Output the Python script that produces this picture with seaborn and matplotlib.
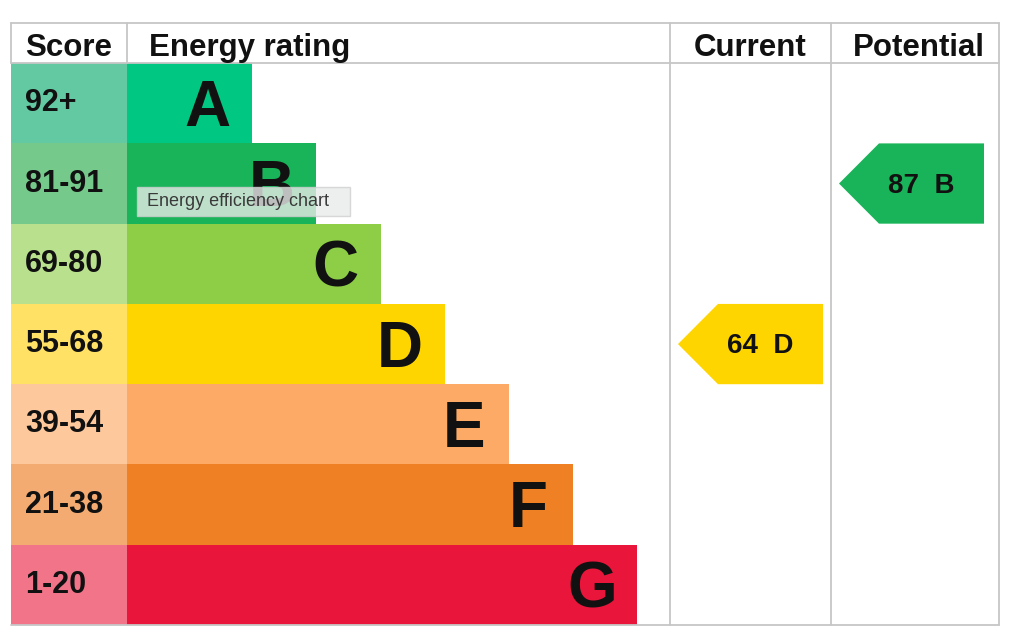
import matplotlib.pyplot as plt
import seaborn as sns
from matplotlib.patches import Polygon, Rectangle

# EPC bands, best to worst
bands = ['A', 'B', 'C', 'D', 'E', 'F', 'G']
score_ranges = ['92+', '81-91', '69-80', '55-68', '39-54', '21-38', '1-20']
band_floor = [92, 81, 69, 55, 39, 21, 1]
bar_colors = ['#00c781', '#19b459', '#8dce46', '#ffd500', '#fcaa65', '#ef8023', '#e9153b']
score_colors = ['#62c9a2', '#74c98b', '#b9e08c', '#ffe166', '#fdc89c', '#f4ab72', '#f27489']

current_score = 64
potential_score = 87

headers = ['Score', 'Energy rating', 'Current', 'Potential']
tooltip = 'Energy efficiency chart'

# layout (x in pixels relative to start of the rating bars)
SCORE_W = 116
BASE, STEP = 61, 64.2
CUR_L, CUR_R = 543, 704
POT_L, POT_R = 704, 872
LINE = '#c6c6c6'


def band_of(score):
    for i, floor in enumerate(band_floor):
        if score >= floor:
            return i
    return len(bands) - 1


sns.set_theme(style='white')
plt.rcParams['font.family'] = ['Liberation Sans', 'DejaVu Sans']

fig = plt.figure(figsize=(10.24, 6.43), dpi=100)
ax = fig.add_axes([11 / 1024, 18 / 643, 988 / 1024, 602 / 643])

bar_len = [BASE + STEP * (i + 1) for i in range(len(bands))]
sns.barplot(x=bar_len, y=bands, hue=bands, palette=bar_colors, orient='h',
            width=1.0, saturation=1, linewidth=0, legend=False, ax=ax)
ax.barh(range(len(bands)), SCORE_W, left=-SCORE_W, height=1.0,
        color=score_colors, linewidth=0)

for i, (band, rng) in enumerate(zip(bands, score_ranges)):
    ax.text(-SCORE_W + 14, i, rng, ha='left', va='center', fontsize=22,
            fontweight='bold', color='#111111')
    ax.text(bar_len[i] - 45, i + 0.07, band, ha='center', va='center',
            fontsize=46, fontweight='bold', color='#111111')

# current / potential arrows
for score, left in [(current_score, CUR_L), (potential_score, POT_L)]:
    row = band_of(score)
    tip = left + 8
    pts = [(tip, row), (tip + 40, row - 0.5), (left + 153, row - 0.5),
           (left + 153, row + 0.5), (tip + 40, row + 0.5)]
    ax.add_patch(Polygon(pts, closed=True, facecolor=bar_colors[row], linewidth=0))
    ax.text(tip + 82, row + 0.03, f'{score}  {bands[row]}', ha='center', va='center',
            fontsize=20, fontweight='bold', color='#111111')

# header
hy = -0.69
ax.text(-SCORE_W + 14, hy, headers[0], ha='left', va='center', fontsize=22.5, fontweight='bold', color='#111111')
ax.text(22, hy, headers[1], ha='left', va='center', fontsize=22.5, fontweight='bold', color='#111111')
ax.text((CUR_L + CUR_R) / 2, hy, headers[2], ha='center', va='center', fontsize=22.5, fontweight='bold', color='#111111')
ax.text((POT_L + POT_R) / 2 + 4, hy, headers[3], ha='center', va='center', fontsize=22.5, fontweight='bold', color='#111111')

# table lines
lw = 1.3
ax.plot([-SCORE_W, POT_R], [-1.0, -1.0], color=LINE, lw=lw, clip_on=False)
ax.plot([-SCORE_W, POT_R], [-0.5, -0.5], color=LINE, lw=lw, clip_on=False)
ax.plot([-SCORE_W, POT_R], [6.5, 6.5], color=LINE, lw=lw, clip_on=False)
ax.plot([-SCORE_W, -SCORE_W], [-1.0, -0.5], color=LINE, lw=lw, clip_on=False)
ax.plot([0, 0], [-1.0, -0.5], color=LINE, lw=lw, clip_on=False)
for x in [CUR_L, POT_L, POT_R]:
    ax.plot([x, x], [-1.0, 6.5], color=LINE, lw=lw, clip_on=False)

ax.set_xlim(-SCORE_W, POT_R)
ax.set_ylim(6.5, -1.0)
ax.axis('off')

# browser tooltip
fig.add_artist(Rectangle((137 / 1024, 1 - 216 / 643), 213 / 1024, 29 / 643,
                         transform=fig.transFigure, facecolor='#e8ece9', alpha=0.8,
                         edgecolor='#cfcfcf', linewidth=1))
fig.text(147 / 1024, 1 - 201.5 / 643, tooltip, ha='left', va='center',
         fontsize=13, color='#3a3a3a')

fig.savefig('out.png', dpi=100)
